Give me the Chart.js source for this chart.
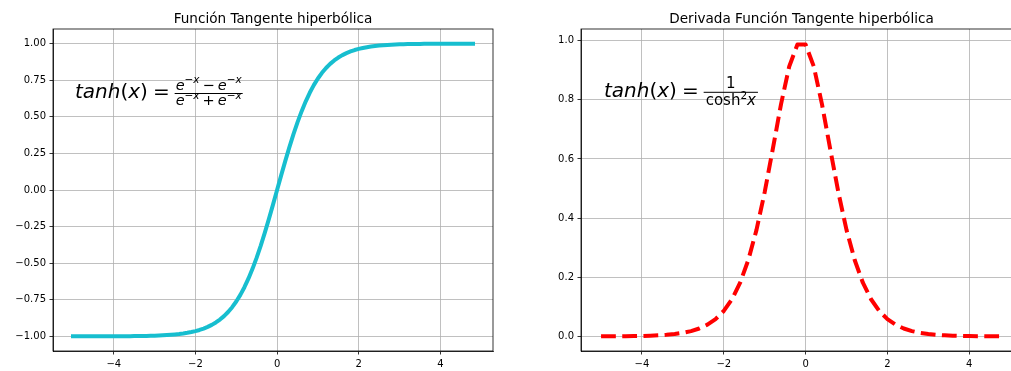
<!DOCTYPE html>
<html>
<head>
<meta charset="utf-8">
<script src="https://cdn.jsdelivr.net/npm/chart.js@4.4.0/dist/chart.umd.min.js"></script>
<style>
html,body{margin:0;padding:0;background:#fff;overflow:hidden;width:1011px;height:371px;}
#wa{position:absolute;left:0;top:0;width:510px;height:371px;}
#wb{position:absolute;left:510px;top:0;width:520px;height:371px;}
</style>
</head>
<body>
<div id="wa"><canvas id="ca"></canvas></div>
<div id="wb"><canvas id="cb"></canvas></div>
<script>
// ---- data ----
const tanhX = [-5.0,-4.9,-4.8,-4.7,-4.6,-4.5,-4.4,-4.3,-4.2,-4.1,-4.0,-3.9,-3.8,-3.7,-3.6,-3.5,-3.4,-3.3,-3.2,-3.1,-3.0,-2.9,-2.8,-2.7,-2.6,-2.5,-2.4,-2.3,-2.2,-2.1,-2.0,-1.9,-1.8,-1.7,-1.6,-1.5,-1.4,-1.3,-1.2,-1.1,-1.0,-0.9,-0.8,-0.7,-0.6,-0.5,-0.4,-0.3,-0.2,-0.1,0.0,0.1,0.2,0.3,0.4,0.5,0.6,0.7,0.8,0.9,1.0,1.1,1.2,1.3,1.4,1.5,1.6,1.7,1.8,1.9,2.0,2.1,2.2,2.3,2.4,2.5,2.6,2.7,2.8,2.9,3.0,3.1,3.2,3.3,3.4,3.5,3.6,3.7,3.8,3.9,4.0,4.1,4.2,4.3,4.4,4.5,4.6,4.7,4.8];
const tanhY = [-0.9999,-0.9999,-0.9999,-0.9998,-0.9998,-0.9998,-0.9997,-0.9996,-0.9996,-0.9995,-0.9993,-0.9992,-0.9990,-0.9988,-0.9985,-0.9982,-0.9978,-0.9973,-0.9967,-0.9959,-0.9951,-0.9940,-0.9926,-0.9910,-0.9890,-0.9866,-0.9837,-0.9801,-0.9757,-0.9705,-0.9640,-0.9562,-0.9468,-0.9354,-0.9217,-0.9051,-0.8854,-0.8617,-0.8337,-0.8005,-0.7616,-0.7163,-0.6640,-0.6044,-0.5370,-0.4621,-0.3799,-0.2913,-0.1974,-0.0997,0.0,0.0997,0.1974,0.2913,0.3799,0.4621,0.5370,0.6044,0.6640,0.7163,0.7616,0.8005,0.8337,0.8617,0.8854,0.9051,0.9217,0.9354,0.9468,0.9562,0.9640,0.9705,0.9757,0.9801,0.9837,0.9866,0.9890,0.9910,0.9926,0.9940,0.9951,0.9959,0.9967,0.9973,0.9978,0.9982,0.9985,0.9988,0.9990,0.9992,0.9993,0.9995,0.9996,0.9996,0.9997,0.9998,0.9998,0.9998,0.9999];
const derivX = [-5.0,-4.8,-4.6,-4.4,-4.2,-4.0,-3.8,-3.6,-3.4,-3.2,-3.0,-2.8,-2.6,-2.4,-2.2,-2.0,-1.8,-1.6,-1.4,-1.2,-1.0,-0.8,-0.6,-0.4,-0.2,0.0,0.2,0.4,0.6,0.8,1.0,1.2,1.4,1.6,1.8,2.0,2.2,2.4,2.6,2.8,3.0,3.2,3.4,3.6,3.8,4.0,4.2,4.4,4.6,4.8];
const derivY = [0.0002,0.0003,0.0005,0.0007,0.0011,0.0016,0.0025,0.0037,0.0055,0.0081,0.0121,0.0180,0.0268,0.0397,0.0586,0.0861,0.1257,0.1816,0.2585,0.3603,0.4878,0.6349,0.7855,0.9129,0.9869,0.9869,0.9129,0.7855,0.6349,0.4878,0.3603,0.2585,0.1816,0.1257,0.0861,0.0586,0.0397,0.0268,0.0180,0.0121,0.0081,0.0055,0.0037,0.0025,0.0016,0.0011,0.0007,0.0005,0.0003,0.0002];
const xTicks = [-4,-2,0,2,4];
const yTicksLeft = [-1.00,-0.75,-0.50,-0.25,0.00,0.25,0.50,0.75,1.00];
const yTicksRight = [0.0,0.2,0.4,0.6,0.8,1.0];
const titleLeft = 'Función Tangente hiperbólica';
const titleRight = 'Derivada Función Tangente hiperbólica';

const FONT = '"DejaVu Sans", sans-serif';
function fmt(v, d){ const s = Math.abs(v).toFixed(d); return (v < 0 ? '\u2212' : '') + s; }

// frame + title plugin
const framePlugin = {
  id: 'frame',
  afterDraw(chart, args, opts) {
    const {ctx, chartArea: a} = chart;
    ctx.save();
    ctx.strokeStyle = '#000';
    ctx.lineWidth = 0.8;
    ctx.strokeRect(a.left, a.top, a.right - a.left, a.bottom - a.top);
    ctx.fillStyle = '#000';
    ctx.font = '13.6px ' + FONT;
    ctx.textAlign = 'center';
    ctx.textBaseline = 'alphabetic';
    ctx.fillText(opts.title, (a.left + a.right) / 2, 22.5);
    ctx.restore();
    if (opts.formula) opts.formula(ctx);
  }
};

// math text helpers
function runW(ctx, r){ ctx.font = (r.it ? 'italic ' : '') + r.s + 'px ' + FONT; return ctx.measureText(r.t).width; }
function seqW(ctx, runs){ let w = 0; for (const r of runs) w += runW(ctx, r) + (r.gap || 0); return w; }
function drawSeq(ctx, runs, x, y){
  ctx.textAlign = 'left'; ctx.textBaseline = 'alphabetic'; ctx.fillStyle = '#000';
  for (const r of runs){ const w = runW(ctx, r); ctx.fillText(r.t, x, y + (r.dy || 0)); x += w + (r.gap || 0); }
  return x;
}
function drawFormula(ctx, x0, base, num, den, barY, barPad, numOff, denOff){
  const F = 20;
  const lhs = [
    {t:'tanh', it:true, s:F}, {t:'(', s:F}, {t:'x', it:true, s:F}, {t:')', s:F, gap:5}, {t:'=', s:F, gap:5}
  ];
  ctx.save();
  let x = drawSeq(ctx, lhs, x0, base);
  const wn = seqW(ctx, num), wd = seqW(ctx, den);
  const w = Math.max(wn, wd) + 2 * barPad;
  ctx.fillRect(x, barY - 0.5, w, 1);
  drawSeq(ctx, num, x + (w - wn) / 2, barY - numOff);
  drawSeq(ctx, den, x + (w - wd) / 2, barY + denOff);
  ctx.restore();
}

function makeOptions(yMin, yMax, yTicks, dec, yAxisW, padRight, title, formula){
  return {
    responsive: false,
    animation: false,
    layout: { padding: { left: 0, right: padRight, top: 29, bottom: 0 } },
    plugins: { legend: { display: false }, title: { display: false }, tooltip: { enabled: false },
      frame: { title: title, formula: formula } },
    scales: {
      x: {
        type: 'linear', min: -5.49, max: 5.29,
        afterBuildTicks: s => { s.ticks = xTicks.map(v => ({value: v})); },
        afterFit: s => { s.height = 20; },
        ticks: { color: '#000', font: { family: FONT, size: 10 }, padding: 3.5, maxRotation: 0,
          callback: v => fmt(v, 0) },
        grid: { color: '#b0b0b0', lineWidth: 0.8, tickLength: 3.5, tickColor: '#000', tickWidth: 0.8 },
        border: { display: true, color: '#000', width: 0.8 }
      },
      y: {
        type: 'linear', min: yMin, max: yMax,
        afterBuildTicks: s => { s.ticks = yTicks.map(v => ({value: v})); },
        afterFit: s => { s.width = yAxisW; },
        ticks: { color: '#000', font: { family: FONT, size: 10 }, padding: 3.5,
          callback: v => fmt(v, dec) },
        grid: { color: '#b0b0b0', lineWidth: 0.8, tickLength: 3.5, tickColor: '#000', tickWidth: 0.8 },
        border: { display: true, color: '#000', width: 0.8 }
      }
    }
  };
}

function setup(id, w, h){ const c = document.getElementById(id); c.width = w; c.height = h; c.style.width = w + 'px'; c.style.height = h + 'px'; return c; }

const formulaLeft = ctx => {
  const s = 14.5, ss = 10.5, d = -6.5;
  const num = [{t:'e', it:true, s:s}, {t:'\u2212', s:ss, dy:d}, {t:'x', it:true, s:ss, dy:d, gap:3},
               {t:'\u2212', s:s, gap:3}, {t:'e', it:true, s:s}, {t:'\u2212', s:ss, dy:d}, {t:'x', it:true, s:ss, dy:d}];
  const den = [{t:'e', it:true, s:s}, {t:'\u2212', s:ss, dy:d}, {t:'x', it:true, s:ss, dy:d, gap:3},
               {t:'+', s:s, gap:3}, {t:'e', it:true, s:s}, {t:'\u2212', s:ss, dy:d}, {t:'x', it:true, s:ss, dy:d}];
  drawFormula(ctx, 75, 98, num, den, 93.5, 1, 4, 11.5);
};
const formulaRight = ctx => {
  const s = 15, ss = 10.5;
  const num = [{t:'1', s:s}];
  const den = [{t:'cosh', s:s}, {t:'2', s:ss, dy:-6.5}, {t:'x', it:true, s:s}];
  drawFormula(ctx, 94, 97, num, den, 92.3, 2, 4, 13);
};

const ca = setup('ca', 510, 371);
new Chart(ca, {
  type: 'line',
  data: { datasets: [{
    data: tanhX.map((x, i) => ({x, y: tanhY[i]})),
    borderColor: '#17becf', borderWidth: 4, pointRadius: 0, tension: 0, fill: false,
    borderCapStyle: 'square', borderJoinStyle: 'round'
  }]},
  options: makeOptions(-1.1, 1.1, yTicksLeft, 2, 53, 17, titleLeft, formulaLeft),
  plugins: [framePlugin]
});

const cb = setup('cb', 520, 371);
new Chart(cb, {
  type: 'line',
  data: { datasets: [{
    data: derivX.map((x, i) => ({x, y: derivY[i]})),
    borderColor: '#ff0000', borderWidth: 4, pointRadius: 0, tension: 0, fill: false,
    borderDash: [14.8, 6.4], borderCapStyle: 'butt', borderJoinStyle: 'round'
  }]},
  options: makeOptions(-0.0493, 1.0395, yTicksRight, 1, 71, 8, titleRight, formulaRight),
  plugins: [framePlugin]
});
</script>
</body>
</html>
